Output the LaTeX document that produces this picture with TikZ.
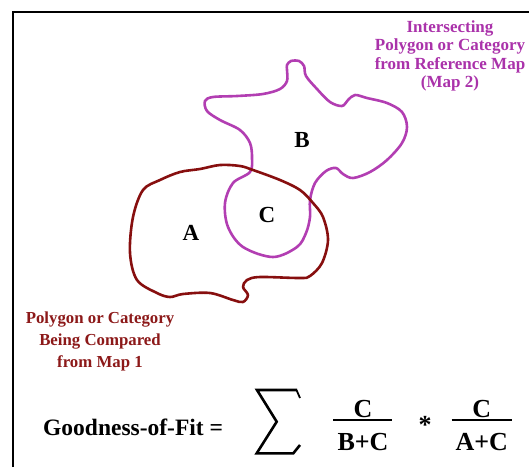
\documentclass[tikz,border=0pt]{standalone}
\usepackage{fontspec}
\setmainfont{Liberation Serif}
\definecolor{purp}{RGB}{178,62,178}
\definecolor{purptext}{RGB}{170,50,170}
\definecolor{maroon}{RGB}{135,15,15}
\definecolor{maroontext}{RGB}{140,25,25}
\tikzset{
  shapeline/.style={line width=2.6pt, line join=round},
  lab/.style={font=\fontsize{23}{23}\selectfont\bfseries, inner sep=0pt},
  note/.style={inner sep=0pt, align=center},
  fracnum/.style={font=\fontsize{26}{26}\selectfont\bfseries, inner sep=0pt, anchor=base},
  fracbar/.style={line width=2.6pt},
}
\begin{document}
\begin{tikzpicture}[x=1pt,y=-1pt]
\useasboundingbox (0,0) rectangle (529,467);
% frame
\draw[line width=2pt, line join=miter] (13,467) -- (13,11.5) -- (529,11.5);
% polygon B (map 2)
\draw[shapeline, purp] plot[smooth cycle, tension=0.55] coordinates {
 (291,61) (299,61) (304,66) (306,76) (317,89) (330,102) (342,106) (348,100) (355,95)
 (367,98) (387,103) (402,112) (407,127) (402,143) (387,160) (370,172)
 (353,178) (343,174) (336,168) (326,171) (315,183) (310,200) (310,217)
 (306,233) (297,247) (273,257) (243,247) (228,227) (225,203) (233,183)
 (250,172) (252,158) (250,143) (240,130) (220,120) (207,111) (205,101)
 (213,97) (237,96) (263,94) (280,89) (287,81) (287,70) (287,65)};
% polygon A (map 1)
\draw[shapeline, maroon] plot[smooth cycle, tension=0.55] coordinates {
 (180,172) (200,169) (220,165) (240,166) (253,170) (280,180) (300,190)
 (313,203) (323,217) (328,240) (322,263) (310,276) (300,278) (260,277)
 (247,280) (243,287) (248,295) (243,302) (233,300) (210,293) (183,294)
 (170,297) (157,293) (137,280) (130,253) (133,217) (143,190) (160,180)};
% region labels
\node[lab] (la) at (191,233) {A};
\node[lab] (lb) at (302,140) {B};
\node[lab] (lc) at (267,215) {C};
% notes
\node[note, text=purptext, font=\fontsize{17}{18.6}\selectfont\bfseries] (ref) at (450,56)
 {Intersecting\\Polygon or Category\\from Reference Map\\(Map 2)};
\node[note, text=maroontext, font=\fontsize{16.8}{22}\selectfont\bfseries] (cmp) at (100,341)
 {Polygon or Category\\Being Compared\\from Map 1};
% formula
\node[inner sep=0pt, anchor=base west, font=\fontsize{23.5}{23.5}\selectfont\bfseries] (gof) at (43,435) {Goodness-of-Fit =};
\draw[line width=2.6pt, line join=miter, line cap=butt]
 (297,390) -- (257,390) -- (276.7,421.7) -- (256.7,453.3) -- (293.3,453.3) -- (300,445);
\draw[line width=1.8pt] (296.5,390) -- (300,398);
\node[fracnum] (n1) at (363,417) {C};
\node[fracnum] (d1) at (363,450) {B+C};
\draw[fracbar] (333,420) -- (392,420);
\node[fracnum] (ast) at (425,433.6) {*};
\node[fracnum] (n2) at (481.7,417) {C};
\node[fracnum] (d2) at (481.7,450) {A+C};
\draw[fracbar] (451.7,420) -- (511.7,420);
\end{tikzpicture}
\end{document}
